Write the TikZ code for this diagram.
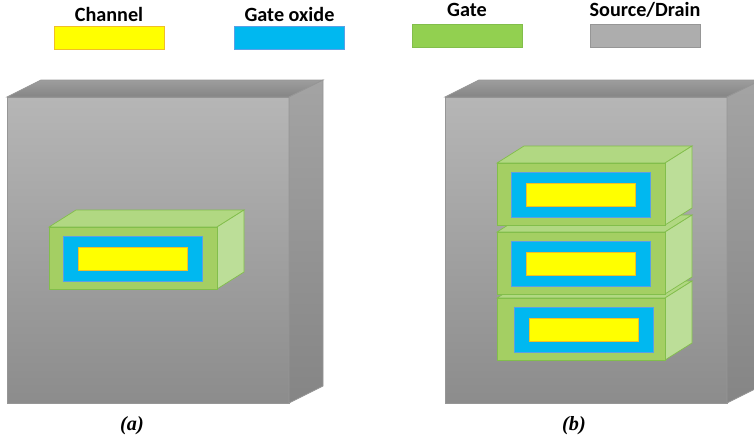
\documentclass[tikz,border=0pt]{standalone}
\usepackage{fontspec}
\setmainfont{Liberation Serif}
\newfontfamily\legendfont{Carlito}
\usetikzlibrary{positioning}

\definecolor{chanyellow}{RGB}{255,255,0}
\definecolor{chanedge}{RGB}{240,190,40}
\definecolor{oxideblue}{RGB}{0,184,240}
\definecolor{oxideedge}{RGB}{90,160,230}
\definecolor{gatelegend}{RGB}{146,208,80}
\definecolor{gatefront}{RGB}{164,207,99}
\definecolor{gatetop}{RGB}{177,216,130}
\definecolor{gateside}{RGB}{188,222,152}
\definecolor{gateedge}{RGB}{130,190,75}
\definecolor{sdlegend}{RGB}{173,173,173}
\definecolor{sdedge}{RGB}{150,150,150}
\definecolor{sdlight}{RGB}{182,182,182}
\definecolor{sddark}{RGB}{140,140,140}

\begin{document}
\begin{tikzpicture}[x=0.02cm,y=-0.02cm,
    legbox/.style={draw,line width=0.5pt,minimum width=2.2cm,minimum height=0.46cm,inner sep=0pt},
    legtext/.style={inner sep=0pt,font=\legendfont\bfseries\fontsize{11.5}{13}\selectfont},
    caption/.style={font=\bfseries\itshape\fontsize{11.5}{13}\selectfont},
    sdface/.style={draw=sdedge,line width=0.4pt},
    gateline/.style={draw=gateedge,line width=0.4pt}]
    \useasboundingbox (0,0) rectangle (754,441);
    \clip (0,0) rectangle (754,441);

    % legend
    \node[legbox,fill=chanyellow,draw=chanedge] (chan) at (109,37.5) {};
    \node[legtext,above=2pt of chan] (chantxt) {Channel};
    \node[legbox,fill=oxideblue,draw=oxideedge] (oxide) at (289.5,37.5) {};
    \node[legtext,above=2pt of oxide] (oxidetxt) {Gate oxide};
    \node[legbox,fill=gatelegend,draw=gateedge] (gate) at (467,35.5) {};
    \node[legtext,above=3.5pt of gate] (gatetxt) {Gate};
    \node[legbox,fill=sdlegend,draw=sdedge] (sd) at (645,35.5) {};
    \node[legtext,above=3.5pt of sd] (sdtxt) {Source/Drain};

    % source/drain blocks
    \foreach \bx in {7,445} {
        \shade[sdface,top color=sdlight,bottom color=sddark] (\bx,97) rectangle ++(282,306);
        \shade[sdface,top color=sddark!85,bottom color=sddark!95!black] (\bx,97) -- ++(34,-17) -- ++(282,0) -- ++(-34,17) -- cycle;
        \shade[sdface,top color=sdlight!90!black,bottom color=sddark!95!black] (\bx+282,97) -- ++(34,-17) -- ++(0,306) -- ++(-34,17) -- cycle;
    }

    % gate bars: (a) single, (b) stacked, drawn bottom up
    \foreach \gx/\gy/\cx in {49/227/0, 497/298/3, 497/232/0, 497/163/0} {
        \fill[gateline,fill=gatetop] (\gx,\gy) -- ++(27,-17) -- ++(168,0) -- ++(-27,17) -- cycle;
        \fill[gateline,fill=gateside] (\gx+168,\gy) -- ++(27,-17) -- ++(0,62) -- ++(-27,17) -- cycle;
        \fill[gateline,fill=gatefront] (\gx,\gy) rectangle ++(168,62);
        \fill[draw=oxideedge,fill=oxideblue,line width=0.4pt] (\gx+14+\cx,\gy+9) rectangle ++(139,45);
        \fill[draw=chanedge,fill=chanyellow,line width=0.4pt] (\gx+29+\cx,\gy+20) rectangle ++(109,23);
    }

    % captions
    \node[caption] (capa) at (132,426) {(a)};
    \node[caption] (capb) at (574,426) {(b)};
\end{tikzpicture}
\end{document}
